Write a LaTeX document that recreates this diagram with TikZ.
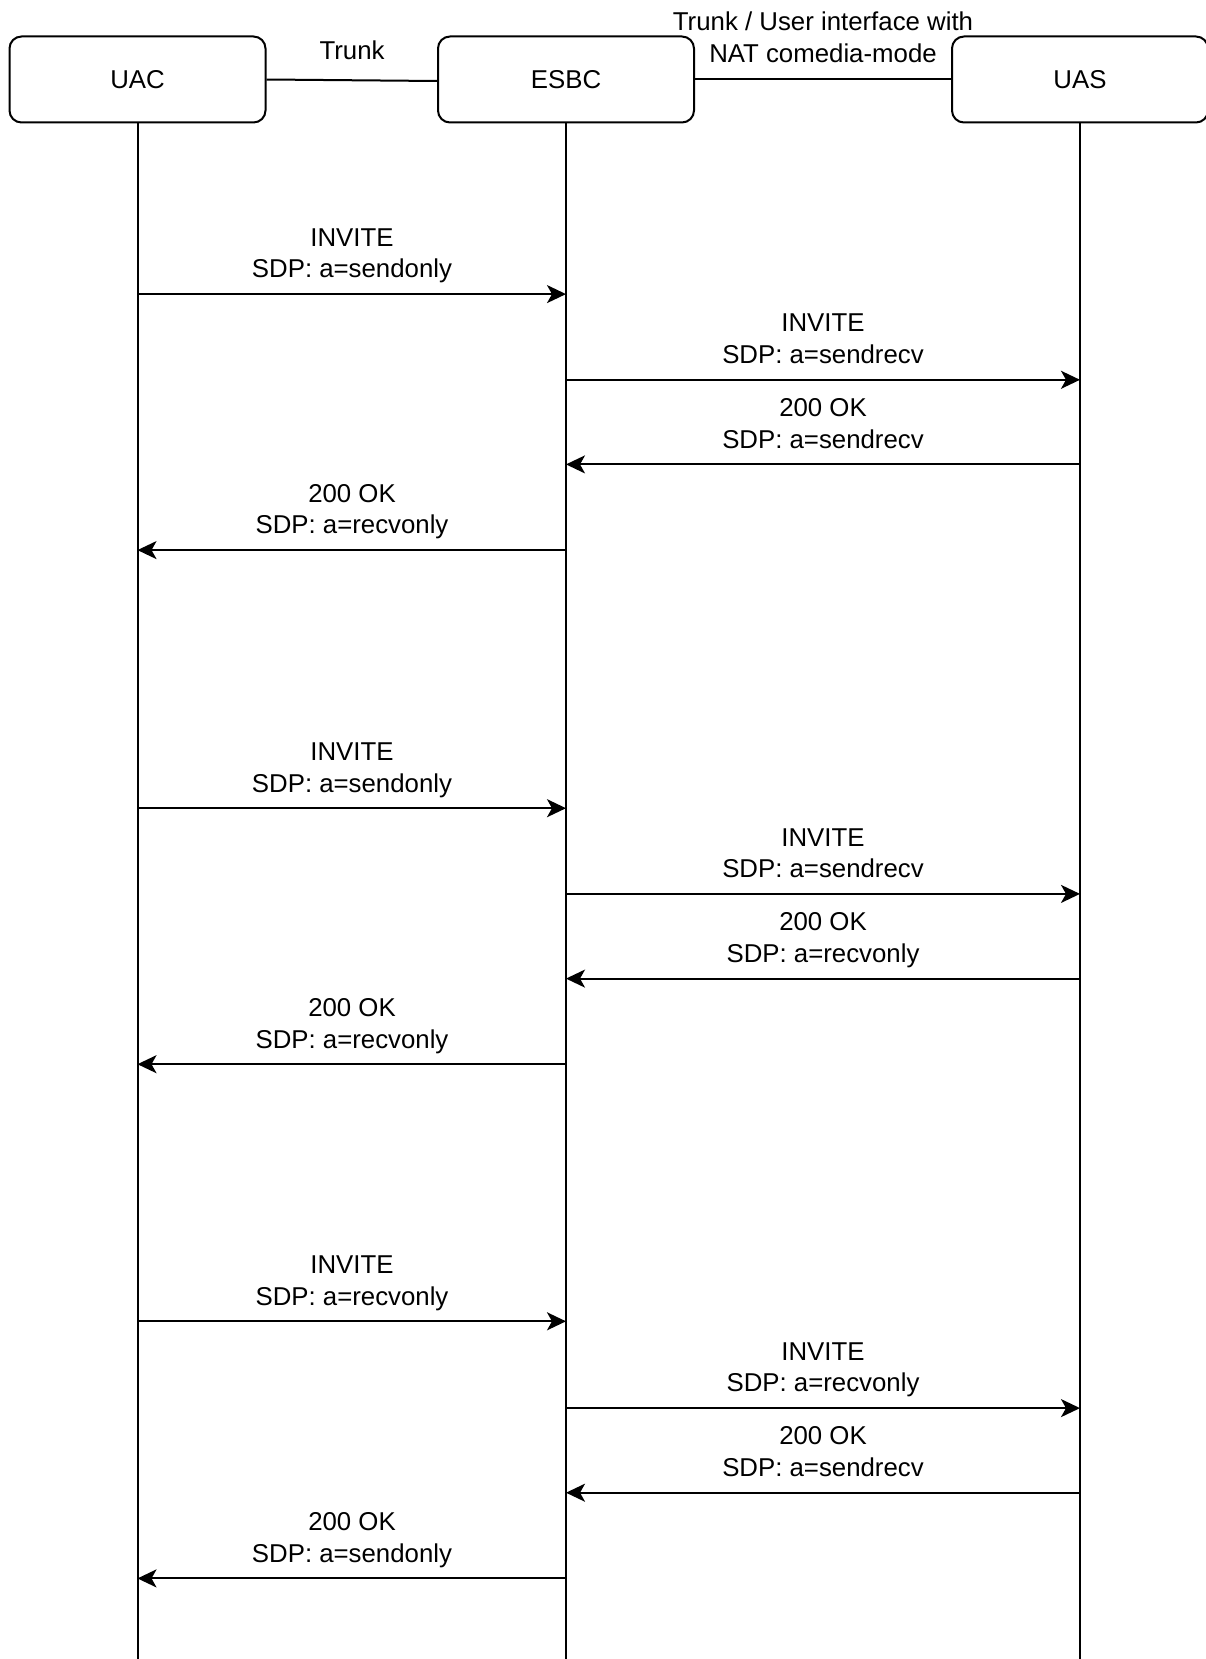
\documentclass[tikz,border=0pt]{standalone}
\usepackage{fontspec}
\setmainfont{Liberation Sans}
\usetikzlibrary{arrows.meta,calc}
\begin{document}
\begin{tikzpicture}[x=1pt,y=-1pt,
  every node/.style={font=\fontsize{25.8}{31.7}\selectfont},
  actor/.style={draw, line width=2pt, rounded corners=12pt, minimum width=256pt, minimum height=86pt, inner sep=0pt},
  life/.style={line width=2pt},
  msg/.style={line width=2pt, -{Stealth[length=19pt,width=18pt,inset=5pt]}},
  lbl/.style={align=center, inner sep=0pt, text depth=0pt, anchor=south}
]
\useasboundingbox (0,0) rectangle (1205,1659);
\node[actor] (uac) at (137.5,79.5) {UAC};
\node[actor] (esbc) at (566,79.5) {ESBC};
\node[actor] (uas) at (1080,79.5) {UAS};
\coordinate (uacbot) at (137.5,1665);
\coordinate (esbcbot) at (566,1665);
\coordinate (uasbot) at (1080,1665);
\draw[life] (uac.south) -- (uacbot);
\draw[life] (esbc.south) -- (esbcbot);
\draw[life] (uas.south) -- (uasbot);
\draw[life] (uac.east) -- ([yshift=-1.5pt]esbc.west);
\draw[life] (esbc.east) -- (uas.west);
\node (trunk) at (352,50) {Trunk};
\node[align=center] (nat) at (823,37) {Trunk / User interface with\\NAT comedia-mode};
\foreach \i/\y/\xa/\xb/\mx/\la/\lb in {
  1/294.1/137.5/566/352/INVITE/SDP: a=sendonly,
  2/379.8/566/1080/823/INVITE/SDP: a=sendrecv,
  3/464.4/1080/566/823/200 OK/SDP: a=sendrecv,
  4/550.1/566/137.5/352/200 OK/SDP: a=recvonly,
  5/808.2/137.5/566/352/INVITE/SDP: a=sendonly,
  6/893.9/566/1080/823/INVITE/SDP: a=sendrecv,
  7/978.6/1080/566/823/200 OK/SDP: a=recvonly,
  8/1064.2/566/137.5/352/200 OK/SDP: a=recvonly,
  9/1321.3/137.5/566/352/INVITE/SDP: a=recvonly,
  10/1408.1/566/1080/823/INVITE/SDP: a=recvonly,
  11/1492.7/1080/566/823/200 OK/SDP: a=sendrecv,
  12/1578.4/566/137.5/352/200 OK/SDP: a=sendonly}
{
  \coordinate (m\i a) at (\xa,\y);
  \coordinate (m\i b) at (\xb,\y);
  \draw[msg] (m\i a) -- (m\i b);
  \node[lbl] (l\i) at (\mx,\y-16) {\la\\\lb};
}
\end{tikzpicture}
\end{document}
